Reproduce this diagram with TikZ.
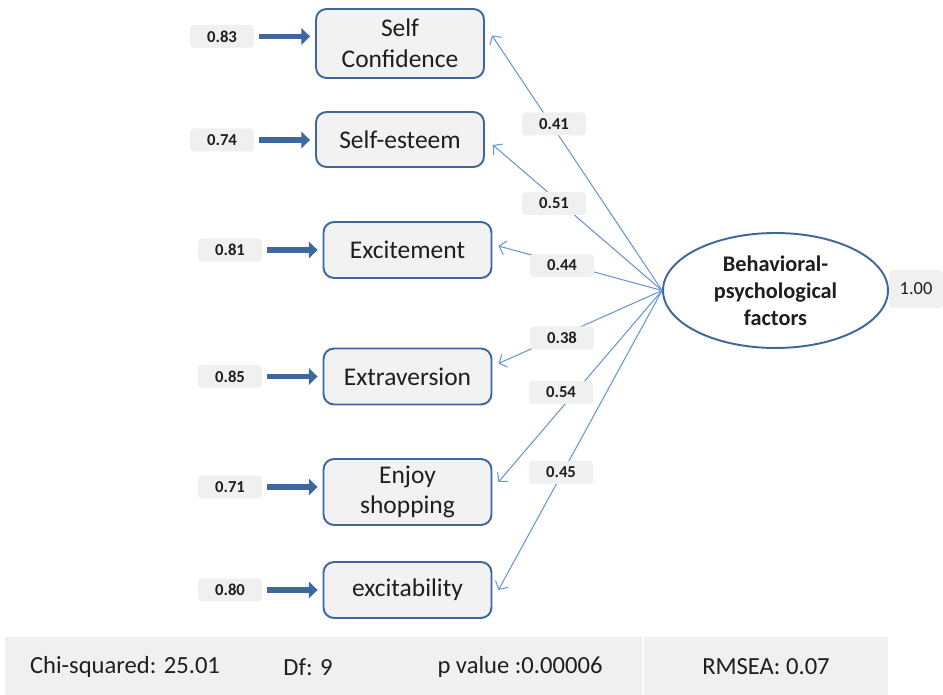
\documentclass[tikz,border=0pt]{standalone}
\usepackage{fontspec}
\setmainfont{Carlito}
\usepackage{xcolor}
\usepackage{tikz}
\usetikzlibrary{positioning,calc,arrows.meta,shapes.geometric}
\definecolor{SEMBlue}{RGB}{62,103,158}
\definecolor{PathBlue}{RGB}{105,150,210}
\definecolor{LabelGray}{RGB}{240,240,240}
\definecolor{BoxGray}{RGB}{242,242,242}
\definecolor{InkDark}{RGB}{30,30,30}

\begin{document}
\begin{tikzpicture}[x=0.02cm, y=-0.02cm,
    itembox/.style={draw=SEMBlue, line width=1.1pt, fill=BoxGray, rounded corners=6pt,
        minimum width=3.36cm, minimum height=1.12cm, inner sep=1pt, align=center,
        text=InkDark, font=\fontsize{14.5}{17.5}\selectfont},
    factor/.style={ellipse, draw=SEMBlue, line width=1.1pt, fill=white,
        minimum width=4.5cm, minimum height=2.3cm, inner sep=0pt, align=center,
        text=InkDark, font=\fontsize{12.7}{15.3}\selectfont\bfseries},
    errlabel/.style={fill=LabelGray, rounded corners=2pt, minimum width=1.28cm,
        minimum height=0.46cm, inner sep=0pt, text=InkDark,
        font=\fontsize{9.5}{11}\selectfont\bfseries},
    varlabel/.style={errlabel, minimum width=1.08cm, minimum height=0.76cm,
        font=\fontsize{10.5}{12}\selectfont},
    errarrow/.style={draw=SEMBlue, line width=3.3pt, shorten <=0.1cm, shorten >=0.1cm,
        -{Triangle[length=5pt,width=9.5pt]}},
    loading/.style={draw=PathBlue, line width=0.6pt,
        -{Straight Barb[length=3.5pt,width=8pt]}},
    stattext/.style={text=InkDark, font=\fontsize{14}{17}\selectfont}
]
\useasboundingbox (0,0) rectangle (943,695);

% observed variables
\node[itembox, minimum height=1.38cm] (conf) at (400,43.5) {Self\\Confidence};
\node[itembox, minimum height=1.1cm] (esteem) at (400,139.5) {Self-esteem};
\node[itembox] (excite) at (407.5,250) {Excitement};
\node[itembox] (extra) at (407.5,376.5) {Extraversion};
\node[itembox, minimum height=1.32cm] (shop) at (407.5,492) {Enjoy\\shopping};
\node[itembox] (excit) at (407.5,590) {excitability};

% latent factor
\node[factor] (fac) at (775.5,290.5) {Behavioral-\\psychological\\factors};
\node[varlabel] (facvar) at (916,289) {1.00};

% error terms
\foreach \val/\tgt/\xx/\yy [count=\i] in {0.83/conf/222/36.5, 0.74/esteem/222/140,
        0.81/excite/230/250, 0.85/extra/230/376.5, 0.71/shop/230/487, 0.80/excit/230/590} {
    \node[errlabel] (err\i) at (\xx,\yy) {\val};
    \draw[errarrow] (err\i.east) -- (err\i -| \tgt.west);
}

% loadings
\draw[loading] (fac.west) -- ([shift={(7,-8)}]conf.east);
\draw[loading] (fac.west) -- ([shift={(8,5.5)}]esteem.east);
\draw[loading] (fac.west) -- ([shift={(6,-4)}]excite.east);
\draw[loading] (fac.west) -- ([shift={(6,-13)}]extra.east);
\draw[loading] (fac.west) -- ([shift={(6,-10)}]shop.east);
\draw[loading] (fac.west) -- ([shift={(6,0)}]excit.east);

\node[errlabel] (ld1) at (554,124) {0.41};
\node[errlabel] (ld2) at (554,203.5) {0.51};
\node[errlabel] (ld3) at (562,265.5) {0.44};
\node[errlabel] (ld4) at (562,338) {0.38};
\node[errlabel] (ld5) at (561,392.5) {0.54};
\node[errlabel] (ld6) at (561,472.5) {0.45};

% fit indices
\fill[LabelGray] (5,637) rectangle (888,695);
\draw[white, line width=0.8pt] (643,637) -- (643,695);
\node[stattext] (chi) at (125,667) {Chi-squared: 25.01};
\node[stattext] (df) at (308,667) {Df: 9};
\node[stattext] (pval) at (520,667) {p value :0.00006};
\node[stattext] (rmsea) at (766,667) {RMSEA: 0.07};
\end{tikzpicture}
\end{document}
